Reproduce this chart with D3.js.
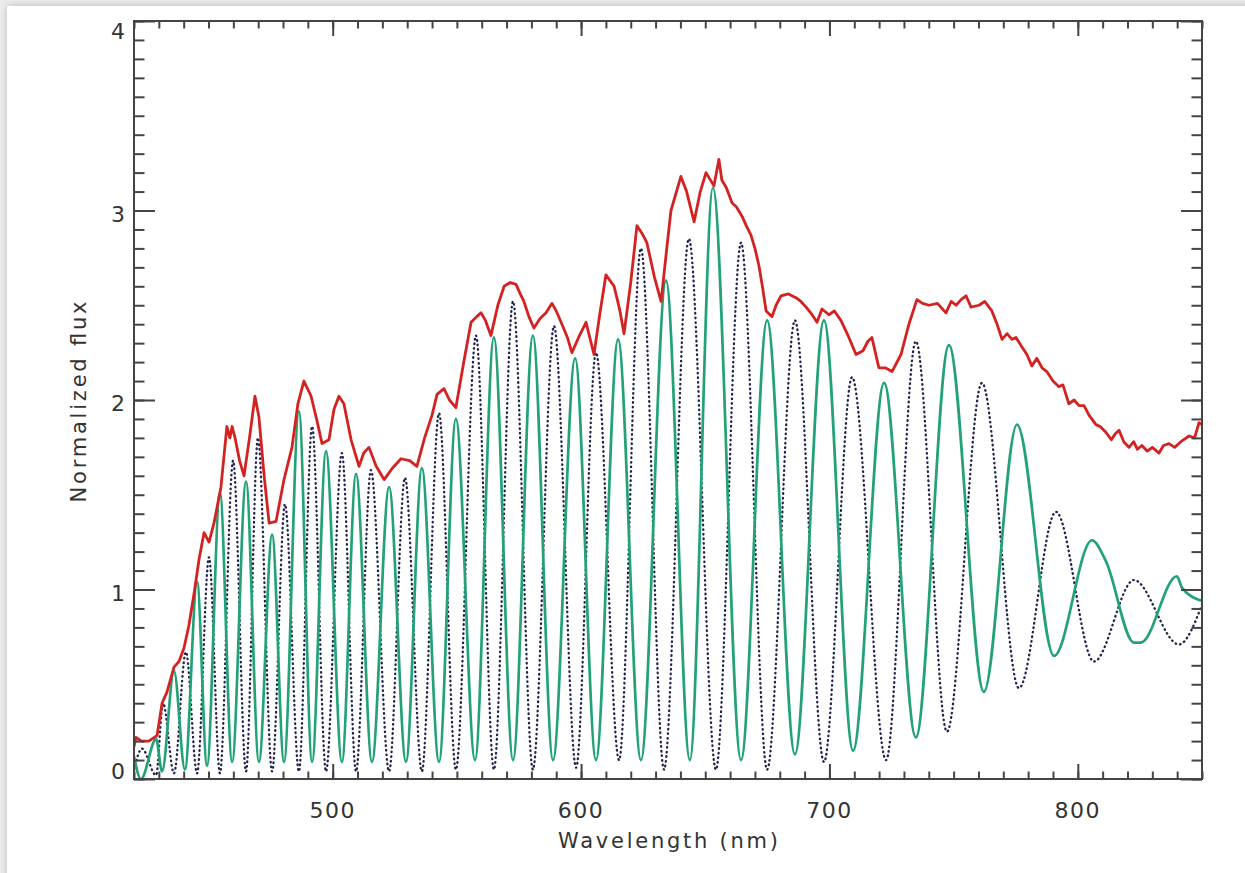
<!DOCTYPE html>
<html lang="en">
  <head>
    <meta charset="utf-8">
    <title>Normalized flux</title>
    <script src="https://d3js.org/d3.v7.min.js"></script>
    <style>
      body { margin: 0; background: #ececec; width: 1245px; height: 873px; overflow: hidden; position: relative; }
      #card { position: absolute; left: 7px; top: 6px; width: 1250px; height: 880px; background: #fff;
              box-shadow: 0 0 7px rgba(0,0,0,0.22); }
      #chart { position: absolute; left: 0; top: 0; }
      .lbl { font-family: "DejaVu Sans", sans-serif; fill: #333; }
      .axis path, .axis line { stroke: #444; stroke-width: 2; }
    </style>
  </head>
  <body>
    <div id="card"></div>
    <div id="chart"></div>
    <script>

      // red spectrum
      var redWl = [420.0,420.8,423.0,426.0,429.3,431.3,433.3,436.1,438.1,440.1,442.1,444.2,446.2,448.2,450.2,452.2,455.0,457.4,458.6,459.5,460.7,462.5,464.3,466.5,468.7,470.3,472.4,474.4,477.2,480.4,483.6,486.0,488.4,491.3,493.5,495.7,498.5,500.5,502.5,504.5,507.4,510.6,512.5,514.6,517.5,520.7,524.0,527.5,531.0,533.9,537.0,540.0,542.0,544.8,547.0,549.6,552.9,555.7,558.0,559.7,561.5,563.7,566.5,569.0,571.5,573.8,575.5,577.0,579.0,581.0,583.5,585.9,588.3,590.0,592.3,594.5,596.3,599.0,602.0,603.5,605.2,607.5,610.0,613.3,615.5,617.3,620.0,622.5,624.5,626.5,629.5,632.2,634.5,636.2,640.2,642.5,645.5,648.0,650.3,653.5,655.5,656.7,658.5,660.8,662.5,664.8,666.5,668.4,670.0,671.6,673.0,674.5,676.9,678.5,680.5,683.5,686.5,688.5,690.6,693.0,695.0,697.0,699.8,702.0,704.6,707.5,710.7,713.5,715.5,717.1,719.9,722.5,725.2,728.8,732.0,735.2,737.5,740.1,743.5,746.9,749.0,751.0,753.0,755.0,757.0,760.2,762.5,765.4,767.5,769.5,771.5,773.5,775.1,777.0,779.5,781.5,783.5,785.6,787.5,790.0,792.4,794.0,796.4,798.5,800.5,802.5,804.5,807.3,809.0,811.3,813.5,815.0,816.6,818.5,820.6,822.5,824.0,825.8,828.0,830.0,832.7,834.5,836.7,839.0,841.5,844.8,847.0,848.8,850.0];
      var redFlux = [0.17,0.22,0.20,0.20,0.23,0.40,0.46,0.59,0.62,0.69,0.81,0.98,1.16,1.30,1.25,1.35,1.54,1.86,1.80,1.86,1.80,1.68,1.60,1.80,2.02,1.91,1.60,1.35,1.36,1.58,1.75,1.98,2.10,2.02,1.90,1.77,1.79,1.95,2.02,1.98,1.79,1.65,1.72,1.75,1.65,1.58,1.64,1.69,1.68,1.65,1.80,1.92,2.03,2.06,2.00,1.96,2.21,2.41,2.44,2.46,2.42,2.34,2.50,2.60,2.62,2.61,2.56,2.52,2.44,2.38,2.43,2.46,2.51,2.47,2.40,2.33,2.25,2.33,2.41,2.33,2.24,2.45,2.66,2.60,2.48,2.35,2.62,2.92,2.88,2.83,2.65,2.52,2.80,3.00,3.18,3.10,2.94,3.10,3.20,3.13,3.27,3.16,3.12,3.04,3.02,2.97,2.92,2.87,2.80,2.71,2.60,2.47,2.44,2.50,2.55,2.56,2.54,2.52,2.49,2.45,2.41,2.48,2.45,2.47,2.42,2.34,2.24,2.26,2.31,2.33,2.17,2.17,2.15,2.24,2.40,2.53,2.51,2.50,2.51,2.46,2.52,2.50,2.53,2.55,2.49,2.50,2.52,2.47,2.40,2.32,2.35,2.32,2.33,2.29,2.24,2.18,2.22,2.17,2.15,2.10,2.07,2.08,1.98,2.00,1.97,1.97,1.92,1.87,1.86,1.83,1.79,1.82,1.84,1.78,1.75,1.78,1.74,1.76,1.73,1.75,1.72,1.76,1.77,1.75,1.78,1.81,1.80,1.88,1.87];

      // green fringes (peaks and troughs)
      var greenWl = [420.0,422.8,428.9,431.3,436.1,440.5,445.4,449.4,454.6,459.5,465.1,470.3,475.6,480.4,486.4,491.7,497.3,503.7,509.4,515.8,522.7,529.5,535.9,542.8,549.6,557.3,564.9,572.6,580.6,588.7,597.6,606.0,614.9,624.1,634.2,643.8,653.1,664.4,674.9,686.1,697.8,709.5,722.0,734.8,748.1,762.2,775.5,790.4,805.7,811.3,822.6,825.4,839.9,841.9,850.0];
      var greenFlux = [0.12,0.00,0.21,0.04,0.57,0.05,1.04,0.07,1.51,0.09,1.57,0.09,1.29,0.09,1.94,0.09,1.73,0.09,1.61,0.09,1.54,0.09,1.64,0.09,1.90,0.10,2.33,0.10,2.34,0.10,2.22,0.10,2.32,0.10,2.63,0.10,3.12,0.10,2.42,0.13,2.42,0.15,2.09,0.22,2.29,0.46,1.87,0.65,1.26,1.15,0.72,0.72,1.07,1.01,0.94];

      // dotted fringes (peaks and troughs)
      var dotWl = [420.0,423.2,428.9,431.7,436.1,440.9,445.4,450.2,454.6,459.9,465.1,469.9,475.6,480.8,486.4,491.7,497.3,503.7,509.4,515.4,522.7,529.1,535.9,542.8,549.6,557.7,564.9,572.6,580.6,589.1,598.0,606.0,615.3,624.1,633.4,643.4,654.3,664.4,674.9,686.1,697.8,709.1,722.8,734.8,747.3,761.4,776.3,791.2,806.5,822.6,840.7,850.0];
      var dotFlux = [0.05,0.16,0.02,0.40,0.03,0.67,0.03,1.17,0.03,1.68,0.04,1.80,0.04,1.45,0.04,1.86,0.04,1.72,0.04,1.63,0.04,1.59,0.04,1.93,0.05,2.34,0.05,2.52,0.05,2.39,0.06,2.25,0.10,2.80,0.05,2.85,0.05,2.83,0.05,2.42,0.09,2.12,0.10,2.31,0.25,2.09,0.48,1.41,0.62,1.05,0.71,0.92];

      var xTicks = [500, 600, 700, 800];
      var yTicks = [0, 1, 2, 3, 4];

      var width = 1245;
      var height = 873;
      var margin = {top: 21, left: 134, right: 43, bottom: 94};

      var svg = d3.select("#chart")
        .append("svg")
        .attr("width", width)
        .attr("height", height);

      var xScale = d3.scaleLinear()
        .domain([420, 850])
        .range([margin.left, width - margin.right]);

      var yScale = d3.scaleLinear()
        .domain([0, 4])
        .range([height - margin.bottom, margin.top]);

      var x0 = margin.left, x1 = width - margin.right;
      var y0 = height - margin.bottom, y1 = margin.top;

      svg.append("defs").append("clipPath").attr("id", "clip")
        .append("rect")
        .attr("x", x0).attr("y", y1)
        .attr("width", x1 - x0).attr("height", y0 - y1);

      var plot = svg.append("g").attr("clip-path", "url(#clip)");

      var line = d3.line()
        .x(function(d){ return xScale(d[0]); })
        .y(function(d){ return yScale(d[1]); });

      plot.append("path")
        .datum(dotWl.map(function(w, i){ return [w, dotFlux[i]]; }))
        .attr("fill", "none")
        .attr("stroke", "#23234f")
        .attr("stroke-width", 2.3)
        .attr("stroke-linecap", "round")
        .attr("stroke-dasharray", "0.6,4")
        .attr("d", line.curve(d3.curveMonotoneX));

      plot.append("path")
        .datum(greenWl.map(function(w, i){ return [w, greenFlux[i]]; }))
        .attr("fill", "none")
        .attr("stroke", "#22a276")
        .attr("stroke-width", 2.7)
        .attr("d", line.curve(d3.curveMonotoneX));

      plot.append("path")
        .datum(redWl.map(function(w, i){ return [w, redFlux[i]]; }))
        .attr("fill", "none")
        .attr("stroke", "#d42222")
        .attr("stroke-width", 2.8)
        .attr("stroke-linejoin", "round")
        .attr("d", line.curve(d3.curveLinear));

      // axes, ticks pointing inward on all four sides
      var minorX = d3.range(420, 851, 10);
      var minorY = d3.range(0, 41).map(function(v){ return v / 10; });

      function addAxis(axisFn, scale, pos, values, size) {
        svg.append("g")
          .attr("class", "axis")
          .attr("transform", pos)
          .call(axisFn(scale).tickValues(values).tickSize(size).tickFormat(""))
          .select(".domain").remove();
      }

      addAxis(d3.axisBottom, xScale, `translate(0,${y0})`, minorX, -7.5);
      addAxis(d3.axisBottom, xScale, `translate(0,${y0})`, xTicks, -15);
      addAxis(d3.axisTop, xScale, `translate(0,${y1})`, minorX, -7.5);
      addAxis(d3.axisTop, xScale, `translate(0,${y1})`, xTicks, -15);
      addAxis(d3.axisLeft, yScale, `translate(${x0},0)`, minorY, -10.5);
      addAxis(d3.axisLeft, yScale, `translate(${x0},0)`, yTicks, -21);
      addAxis(d3.axisRight, yScale, `translate(${x1},0)`, minorY, -10.5);
      addAxis(d3.axisRight, yScale, `translate(${x1},0)`, yTicks, -21);

      svg.append("rect")
        .attr("x", x0).attr("y", y1)
        .attr("width", x1 - x0).attr("height", y0 - y1)
        .attr("fill", "none")
        .attr("stroke", "#444")
        .attr("stroke-width", 2);

      svg.selectAll(".xlab")
        .data(xTicks)
        .enter().append("text")
        .attr("class", "lbl")
        .attr("x", function(d){ return xScale(d); })
        .attr("y", y0 + 39)
        .attr("text-anchor", "middle")
        .attr("font-size", 22)
        .attr("letter-spacing", 1.5)
        .text(function(d){ return d; });

      svg.selectAll(".ylab")
        .data(yTicks)
        .enter().append("text")
        .attr("class", "lbl")
        .attr("x", x0 - 9)
        .attr("y", function(d){ return yScale(d); })
        .attr("dy", function(d){ return d == 4 ? 18 : (d == 0 ? 0 : 11); })
        .attr("text-anchor", "end")
        .attr("font-size", 22)
        .text(function(d){ return d; });

      svg.append("text")
        .attr("class", "lbl")
        .attr("x", (x0 + x1) / 2)
        .attr("y", y0 + 69)
        .attr("text-anchor", "middle")
        .attr("font-size", 21)
        .attr("textLength", 220)
        .attr("lengthAdjust", "spacing")
        .text("Wavelength (nm)");

      svg.append("text")
        .attr("class", "lbl")
        .attr("transform", "translate(86,402) rotate(-90)")
        .attr("text-anchor", "middle")
        .attr("font-size", 21)
        .attr("textLength", 201)
        .attr("lengthAdjust", "spacing")
        .text("Normalized flux");

    </script>
  </body>
</html>
